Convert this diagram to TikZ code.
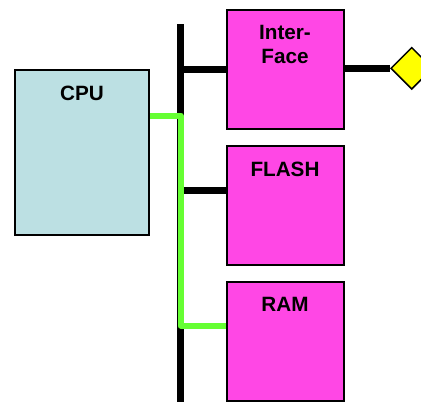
\documentclass[tikz,border=0pt]{standalone}
\usepackage{fontspec}
\setmainfont{Liberation Sans}
\usetikzlibrary{calc,shapes.geometric}
\definecolor{cpublue}{RGB}{188,224,227}
\definecolor{unitpink}{RGB}{255,71,229}
\definecolor{linkgreen}{RGB}{102,255,51}
\definecolor{portyellow}{RGB}{255,255,0}

\tikzset{
    unit/.style={draw=black,line width=2pt,inner sep=0pt,fill=unitpink,
        minimum width=117pt,minimum height=119pt},
    title/.style={anchor=base,yshift=-31pt,align=center,inner sep=0pt,
        font=\fontsize{20.7}{24}\selectfont\bfseries},
    busline/.style={line width=7pt},
    link/.style={line width=6pt,draw=linkgreen,line join=round}
}

\begin{document}
\begin{tikzpicture}[x=1pt,y=-1pt]
        \useasboundingbox (0,0) rectangle (421,402);
        \clip (0,0) rectangle (421,402);

        \node (cpu) [unit,fill=cpublue,minimum width=134pt,minimum height=165pt,
            label={[title]north:CPU}] at (82,152.5) {};
        % base of a two-line label sits on its last line
        \node (iface) [unit,label={[title,yshift=-24pt]north:Inter-\\Face}] at (285,69) {};
        \node (flash) [unit,label={[title]north:FLASH}] at (285,205.7) {};
        \node (ram) [unit,label={[title]north:RAM}] at (285,341) {};
        \node (port) [diamond,draw=black,line width=1.5pt,fill=portyellow,
            inner sep=0pt,minimum width=42pt,minimum height=42pt] at (411.7,68.3) {};

        % system bus
        \coordinate (bustop) at (180.5,24);
        \coordinate (busbot) at (180.5,410);
        \draw[busline] (bustop) -- (busbot);

        \draw[busline] ($(iface.west)+(0,0.3)$) -- ($(iface.west)+(-45,0.3)$);
        \draw[busline] ($(flash.west)+(0,-15)$) -- ($(flash.west)+(-45,-15)$);
        \draw[busline] ($(iface.east)+(0,-0.7)$) -- (port.west);

        % cpu to ram link
        \draw[link] ($(cpu.north east)+(0,46.5)$) -| ($(busbot)+(0,-84.5)$) -- ($(ram.west)+(0,-15.5)$);
    \end{tikzpicture}
\end{document}
